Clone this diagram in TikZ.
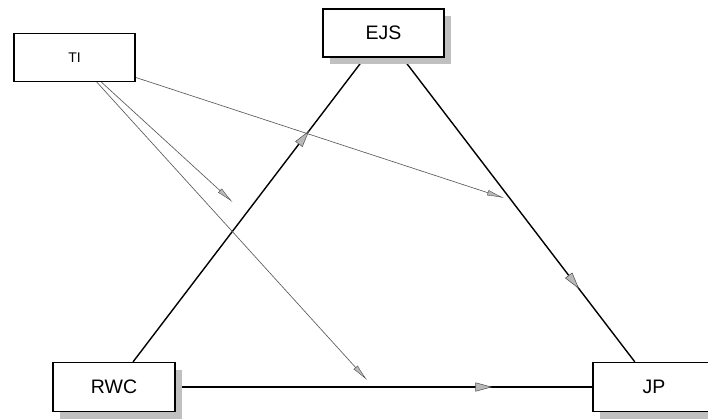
\documentclass[tikz,border=0pt]{standalone}
\usepackage{fontspec}
\setmainfont{Liberation Sans}
\usetikzlibrary{arrows.meta,decorations.markings,shadows,backgrounds}
\definecolor{shadowgray}{RGB}{192,192,192}
\definecolor{headgray}{RGB}{185,185,185}
\definecolor{modline}{RGB}{90,90,90}
\begin{document}
\begin{tikzpicture}[x=1pt,y=-1pt,
  box/.style={draw=black, line width=1.3pt, fill=white, rectangle,
    minimum width=121pt, minimum height=48pt, inner sep=0pt,
    font=\fontsize{19.5}{21}\selectfont},
  shadowed/.style={general shadow={fill=shadowgray, shadow xshift=7pt, shadow yshift=-7pt}},
  mainarrow/.style={draw=black, line width=1.4pt, postaction={decorate},
    decoration={markings, mark=at position 0.76 with
      {\arrow{Triangle[length=17pt,width=9pt,fill=headgray,color=black!70,line width=0.5pt]}}}},
  modarrow/.style={draw=modline, line width=0.65pt,
    -{Latex[length=17pt,width=5.5pt,fill=headgray,color=black!70,line width=0.4pt]}}
]
\useasboundingbox (0,0) rectangle (708,418);
\clip (0,0) rectangle (708,418);

\node[box] (TI) at (74.5,57.5) {\fontsize{14}{16}\selectfont TI};
\node[box, shadowed] (EJS) at (383.5,33) {EJS};
\node[box, shadowed, minimum width=122pt, minimum height=49pt] (RWC) at (114,387) {RWC};
\node[box, shadowed, minimum width=122pt, minimum height=49pt] (JP) at (654,387) {JP};

\coordinate (t1) at (504,198);
\coordinate (t2) at (232.5,202);
\coordinate (t3) at (367,380);

\begin{scope}[on background layer]
  \fill[white] (0,0) rectangle (708,418);
  \draw[mainarrow] (RWC) -- (EJS);
  \draw[mainarrow] (EJS) -- (JP);
  \draw[mainarrow] (RWC) -- (JP);
  \draw[modarrow] (TI) -- (t1);
  \draw[modarrow] (TI) -- (t2);
  \draw[modarrow] (TI) -- (t3);
\end{scope}
\end{tikzpicture}
\end{document}
